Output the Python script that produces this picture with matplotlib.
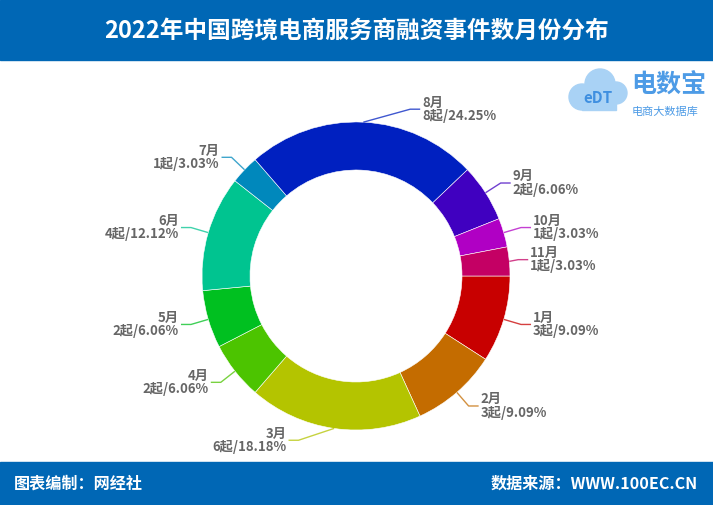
import numpy as np
import matplotlib
matplotlib.use("Agg")
import matplotlib.pyplot as plt
from matplotlib.patches import Rectangle, Circle

plt.rcParams['font.family'] = ['Noto Sans CJK SC', 'DejaVu Sans']

months = ['1月', '2月', '3月', '4月', '5月', '6月', '7月', '8月', '9月', '10月', '11月']
counts = [3, 3, 6, 2, 2, 4, 1, 8, 2, 1, 1]
shares = ['9.09%', '9.09%', '18.18%', '6.06%', '6.06%', '12.12%', '3.03%',
          '24.25%', '6.06%', '3.03%', '3.03%']
colors = ['#c80000', '#c46c00', '#b4c400', '#4cc400', '#00c020', '#00c490',
          '#0088bc', '#0020c0', '#4000c0', '#b000c4', '#c40064']

title = '2022年中国跨境电商服务商融资事件数月份分布'
left_note = '图表编制：网经社'
right_note = '数据来源：WWW.100EC.CN'

W, H = 713, 505
cx, cy = 356, H - 276      # pie centre (y up)
R, r_in = 154, 106
len1, len2 = 18, 10
# manual nudges for labels that echarts moved (px, y down)
nudge = {'3月': (-33, -6), '8月': (46, 5), '11月': (-9, 0)}

fig = plt.figure(figsize=(W / 100, H / 100), dpi=100)
ax = fig.add_axes([0, 0, 1, 1])

wedges, _ = ax.pie(counts, colors=colors, startangle=0, counterclock=False,
                   center=(cx, cy), radius=R,
                   wedgeprops=dict(width=R - r_in, edgecolor='white', linewidth=0.4))
ax.set_xlim(0, W)
ax.set_ylim(0, H)
ax.set_aspect('auto')
ax.axis('off')

# labels with leader lines
for w, m, n, s, c in zip(wedges, months, counts, shares, colors):
    ang = np.deg2rad((w.theta1 + w.theta2) / 2)
    ca, sa = np.cos(ang), np.sin(ang)
    x0, y0 = cx + R * ca, cy + R * sa
    dx, dy = nudge.get(m, (0, 0))
    x1, y1 = cx + (R + len1) * ca + dx, cy + (R + len1) * sa - dy
    side = 1 if x1 >= cx else -1
    x2 = x1 + side * len2
    ax.plot([x0, x1, x2], [y0, y1, y1], color=c, lw=1, alpha=0.75,
            solid_capstyle='butt')
    ax.text(x2 + side * 2, y1, f'{m}\n{n}起/{s}', ha='left' if side > 0 else 'right',
            va='center', fontsize=9.5, color='#666666', fontweight='bold',
            linespacing=0.95, multialignment='left' if side > 0 else 'right')

# header and footer bands
ax.add_patch(Rectangle((0, H - 60), W, 60, color='#0067b5', zorder=5))
ax.add_patch(Rectangle((0, 0), W, H - 462, color='#0067b5', zorder=5))
ax.text(W / 2, H - 31, title, ha='center', va='center', color='white',
        fontsize=17, fontweight='bold', zorder=6)
ax.text(14, (H - 462) / 2, left_note, ha='left', va='center', color='white',
        fontsize=11.6, fontweight='bold', zorder=6)
ax.text(698, (H - 462) / 2, right_note, ha='right', va='center', color='white',
        fontsize=11.6, fontweight='bold', zorder=6)

# logo (cloud + text)
for (lx, ly, lr) in [(582, 97, 13), (600, 84, 15), (616, 93, 11)]:
    ax.add_patch(Circle((lx, H - ly), lr, color='#a9d2f5', zorder=3))
ax.add_patch(Rectangle((582, H - 110), 34, 16, color='#a9d2f5', zorder=3))
ax.text(598, H - 98, 'eDT', ha='center', va='center', color='#3f8fe0',
        fontsize=11, fontweight='bold', zorder=4)
ax.text(631, H - 86, '电数宝', ha='left', va='center', color='#4d9be6',
        fontsize=18, fontweight='bold', zorder=4)
ax.text(632, H - 112, '电商大数据库', ha='left', va='center', color='#4d9be6',
        fontsize=8, zorder=4)

fig.savefig('out.png', dpi=100)
